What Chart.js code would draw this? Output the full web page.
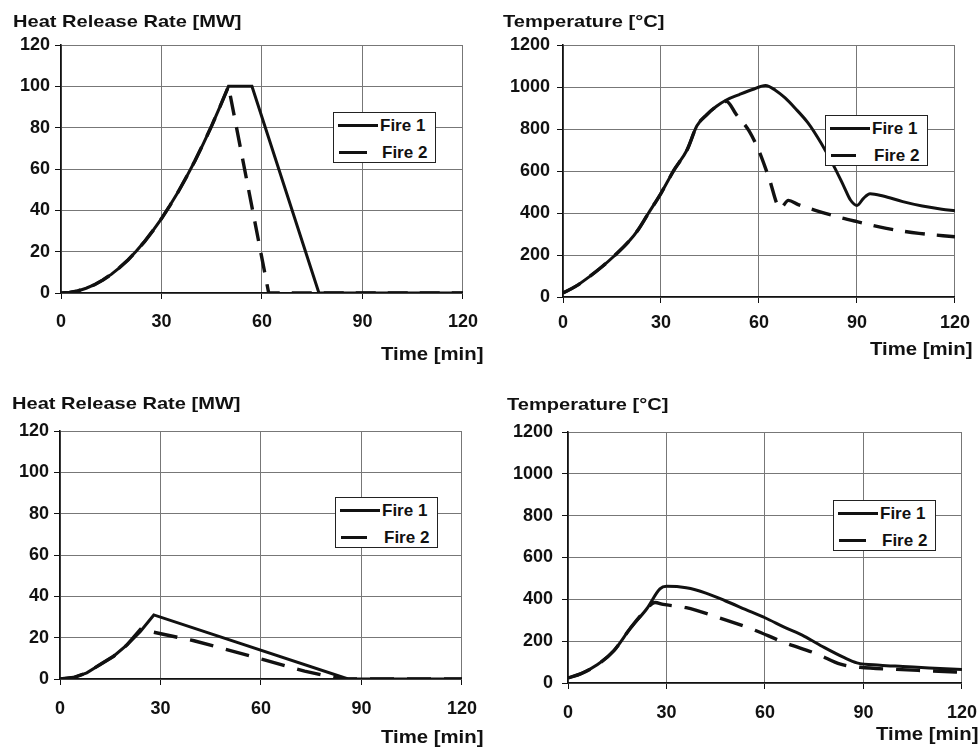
<!DOCTYPE html>
<html>
<head>
<meta charset="utf-8">
<script src="https://cdn.jsdelivr.net/npm/chart.js@4.4.1/dist/chart.umd.min.js"></script>
<style>
  html, body { margin: 0; padding: 0; background: #fff; overflow: hidden; }
  body { width: 979px; height: 751px; position: relative; font-family: "Liberation Sans", Arial, sans-serif; color: #111; }
  canvas { position: absolute; }
  .txt { position: absolute; font-weight: bold; white-space: nowrap; line-height: 1; transform-origin: left top; }
  .title { font-size: 17px; transform: scaleX(1.18); }
  .xlab { font-size: 18px; transform: scaleX(1.13); }
  .legend { position: absolute; width: 101px; height: 49px; border: 1.5px solid #222; background: #fff; }
  .legend .sample { position: absolute; height: 0; }
  .legend .name { position: absolute; font-size: 17px; font-weight: bold; line-height: 1; }
</style>
</head>
<body>
<canvas id="hrrTop" width="490" height="345" style="left:0;top:0"></canvas>
<canvas id="tempTop" width="489" height="345" style="left:490px;top:0"></canvas>
<canvas id="hrrBot" width="490" height="381" style="left:0;top:370px"></canvas>
<canvas id="tempBot" width="500" height="381" style="left:490px;top:370px"></canvas>

<div class="txt title" style="left:13px;top:13px">Heat Release Rate [MW]</div>
<div class="txt title" style="left:503px;top:13px">Temperature [°C]</div>
<div class="txt title" style="left:12px;top:395px">Heat Release Rate [MW]</div>
<div class="txt title" style="left:507px;top:396px">Temperature [°C]</div>

<div class="txt xlab" style="left:381px;top:345px">Time [min]</div>
<div class="txt xlab" style="left:870px;top:340px">Time [min]</div>
<div class="txt xlab" style="left:381px;top:728px">Time [min]</div>
<div class="txt xlab" style="left:876px;top:725px">Time [min]</div>

<script>
// axis ticks
const timeTicks = [0, 30, 60, 90, 120];
const hrrTicks = [0, 20, 40, 60, 80, 100, 120];
const tempTicks = [0, 200, 400, 600, 800, 1000, 1200];
const seriesNames = ['Fire 1', 'Fire 2'];

// top left: heat release rate
const hrrTopTime1 = [0, 2.5, 5, 7.5, 10, 12.5, 15, 17.5, 20, 22.5, 25, 27.5, 30, 32.5, 35, 37.5, 40, 42.5, 45, 47.5, 50, 57, 77, 120];
const hrrTopFire1 = [0, 0.3, 1, 2.3, 4, 6.3, 9, 12.3, 16, 20.3, 25, 30.3, 36, 42.3, 49, 56.3, 64, 72.3, 81, 90.3, 100, 100, 0, 0];
const hrrTopTime2 = [0, 2.5, 5, 7.5, 10, 12.5, 15, 17.5, 20, 22.5, 25, 27.5, 30, 32.5, 35, 37.5, 40, 42.5, 45, 47.5, 50, 62, 120];
const hrrTopFire2 = [0, 0.3, 1, 2.3, 4, 6.3, 9, 12.3, 16, 20.3, 25, 30.3, 36, 42.3, 49, 56.3, 64, 72.3, 81, 90.3, 100, 0, 0];

// top right: temperature
const tempTopTime1 = [0, 4, 8, 12, 16, 20, 23, 26, 30, 34, 38, 41, 44, 47, 50, 54, 58, 62, 65, 68, 71, 75, 79, 83, 86, 88, 90, 92, 94, 98, 104, 110, 116, 120];
const tempTopFire1 = [19, 52, 96, 145, 200, 262, 320, 395, 494, 605, 701, 815, 868, 908, 938, 964, 988, 1007, 985, 948, 900, 829, 733, 621, 526, 462, 436, 470, 492, 481, 454, 433, 418, 411];
const tempTopTime2 = [0, 4, 8, 12, 16, 20, 23, 26, 30, 34, 38, 41, 44, 47, 50, 53, 57, 60, 63, 66.5, 69, 72, 77, 84, 90, 99, 109, 120];
const tempTopFire2 = [19, 52, 96, 145, 200, 262, 320, 395, 494, 605, 701, 815, 868, 908, 932, 870, 790, 695, 570, 422, 460, 440, 414, 382, 359, 327, 303, 287];

// bottom left: heat release rate
const hrrBotTime1 = [0, 4, 8, 12, 16, 20, 24, 28, 86, 120];
const hrrBotFire1 = [0, 0.7, 3, 7, 11, 16.5, 23, 31, 0, 0];
const hrrBotTime2 = [0, 4, 8, 12, 16, 20, 24, 40, 61, 73, 84, 120];
const hrrBotFire2 = [0, 0.7, 3, 7, 11, 16.5, 24, 18.5, 9.3, 3.8, 0, 0];

// bottom right: temperature
const tempBotTime1 = [0, 4, 9, 14, 19, 24, 28, 30, 36, 42, 48, 54, 60, 66, 72, 78, 84, 88, 95, 102, 110, 120];
const tempBotFire1 = [24, 45, 88, 155, 262, 355, 450, 462, 455, 430, 392, 352, 312, 266, 223, 170, 122, 96, 85, 79, 72, 64];
const tempBotTime2 = [0, 4, 9, 14, 19, 24, 26.5, 29, 36, 46, 56, 66, 76, 83, 89, 100, 110, 120];
const tempBotFire2 = [24, 45, 88, 155, 262, 355, 385, 376, 360, 312, 258, 193, 138, 90, 75, 65, 58, 51];

const FONT = '"Liberation Sans", Arial, sans-serif';
const INK = '#111';
const GRID = '#777';

function points(xs, ys) {
  return xs.map((x, i) => ({ x: x, y: ys[i] }));
}

function makeChart(id, c) {
  const ctx = document.getElementById(id).getContext('2d');
  const line = {
    borderColor: INK,
    pointRadius: 0,
    fill: false,
    tension: 0,
    cubicInterpolationMode: c.smooth ? 'monotone' : 'default'
  };

  new Chart(ctx, {
    type: 'line',
    data: {
      datasets: [
        Object.assign({ label: seriesNames[0], data: points(c.t1, c.v1), borderWidth: 3 }, line),
        Object.assign({ label: seriesNames[1], data: points(c.t2, c.v2), borderDash: c.dash, borderWidth: 3.4 }, line)
      ]
    },
    options: {
      responsive: false,
      animation: false,
      events: [],
      layout: { padding: { left: 0, right: c.padRight, top: c.padTop, bottom: 0 } },
      plugins: {
        legend: { display: false },
        tooltip: { enabled: false }
      },
      scales: {
        x: {
          type: 'linear',
          min: timeTicks[0],
          max: timeTicks[timeTicks.length - 1],
          afterBuildTicks: (s) => { s.ticks = timeTicks.map(v => ({ value: v })); },
          afterFit: (s) => { s.height = c.xHeight; },
          ticks: {
            color: INK,
            font: { family: FONT, size: 18, weight: 'bold' },
            padding: c.xPad,
            maxRotation: 0,
            autoSkip: false,
            callback: (v) => String(v)
          },
          grid: { color: GRID, lineWidth: 1, tickColor: INK, tickLength: 6 },
          border: { color: INK, width: 1.6 }
        },
        y: {
          type: 'linear',
          min: c.yTicks[0],
          max: c.yTicks[c.yTicks.length - 1],
          afterBuildTicks: (s) => { s.ticks = c.yTicks.map(v => ({ value: v })); },
          afterFit: (s) => { s.width = c.yWidth; },
          ticks: {
            color: INK,
            font: { family: FONT, size: 18, weight: 'bold' },
            padding: c.yPad,
            autoSkip: false,
            callback: (v) => String(v)
          },
          grid: { color: GRID, lineWidth: 1, tickColor: INK, tickLength: 6 },
          border: { color: INK, width: 1.6 }
        }
      }
    }
  });
}

function makeLegend(left, top, dashLen) {
  const box = document.createElement('div');
  box.className = 'legend';
  box.style.left = left + 'px';
  box.style.top = top + 'px';
  box.innerHTML = `
    <div class="sample" style="left:4px;top:11px;width:40px;border-top:3px solid ${INK}"></div>
    <div class="name" style="left:46px;top:4px">${seriesNames[0]}</div>
    <div class="sample" style="left:5px;top:38px;width:${dashLen}px;border-top:3.4px solid ${INK}"></div>
    <div class="name" style="left:48px;top:31px">${seriesNames[1]}</div>
  `;
  document.body.appendChild(box);
}

makeChart('hrrTop', {
  t1: hrrTopTime1, v1: hrrTopFire1, t2: hrrTopTime2, v2: hrrTopFire2,
  yTicks: hrrTicks, dash: [20, 12], smooth: false,
  padTop: 45, padRight: 23, yWidth: 61, xHeight: 52, xPad: 12, yPad: 5
});
makeChart('tempTop', {
  t1: tempTopTime1, v1: tempTopFire1, t2: tempTopTime2, v2: tempTopFire2,
  yTicks: tempTicks, dash: [20, 12], smooth: true,
  padTop: 45, padRight: 18, yWidth: 73, xHeight: 48, xPad: 9, yPad: 7
});
makeChart('hrrBot', {
  t1: hrrBotTime1, v1: hrrBotFire1, t2: hrrBotTime2, v2: hrrBotFire2,
  yTicks: hrrTicks, dash: [24, 13], smooth: false,
  padTop: 61, padRight: 19, yWidth: 60, xHeight: 72, xPad: 13, yPad: 5
});
makeChart('tempBot', {
  t1: tempBotTime1, v1: tempBotFire1, t2: tempBotTime2, v2: tempBotFire2,
  yTicks: tempTicks, dash: [24, 13], smooth: true,
  padTop: 62, padRight: 21, yWidth: 78, xHeight: 68, xPad: 13, yPad: 9
});

makeLegend(333, 112, 28);
makeLegend(825, 115, 25);
makeLegend(335, 497, 26);
makeLegend(833, 500, 27);
</script>
</body>
</html>
